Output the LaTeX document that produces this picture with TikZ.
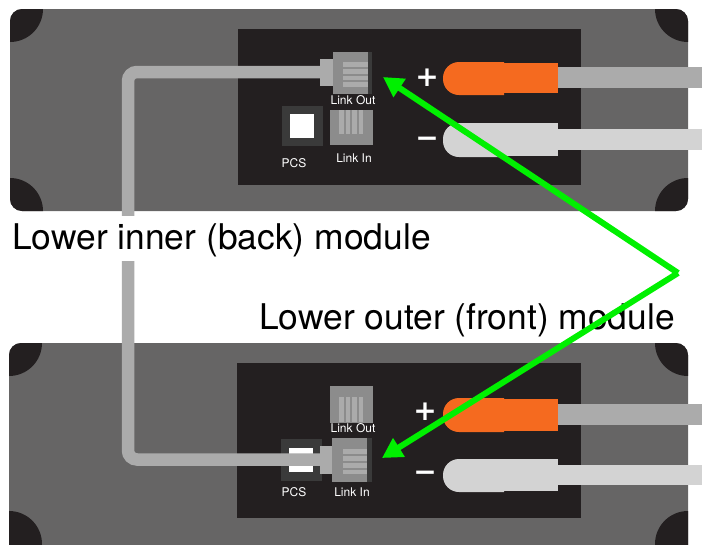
\documentclass[tikz,border=0pt]{standalone}
\usepackage{fontspec}
\setmainfont{TeX Gyre Heros}
\newfontfamily\zeichenfont{DejaVu Sans}
\usepackage{tikz}
\usetikzlibrary{arrows.meta,positioning}
\definecolor{gehaeuse}{HTML}{666565}
\definecolor{panel}{HTML}{231F20}
\definecolor{kabel}{HTML}{ABABAB}
\definecolor{kabelw}{HTML}{D3D3D3}
\definecolor{stecker}{HTML}{F56A1F}
\definecolor{buchse}{HTML}{8C8C8C}
\definecolor{pcsgrau}{HTML}{3A3A3A}
\definecolor{pfeil}{HTML}{00F000}
\tikzset{
  gehaeusebox/.style={fill=gehaeuse,rounded corners=12pt},
  ecke/.style={fill=panel},
  kabelstrich/.style={kabel,line width=12.5pt,rounded corners=9pt},
  klein/.style={white,font=\fontsize{12}{12}\selectfont,inner sep=0pt},
  zeichen/.style={white,font=\zeichenfont\fontsize{28}{28}\selectfont\bfseries,inner sep=0pt},
  gross/.style={black,font=\fontsize{35.4}{36}\selectfont,inner sep=0pt},
  zeiger/.style={-{Triangle[length=20pt,width=21pt]},pfeil,line width=6pt},
}
\begin{document}
\begin{tikzpicture}[x=1pt,y=-1pt]
  \useasboundingbox (0,0) rectangle (702,544);
  % oberes Modul
  \fill[gehaeusebox] (10,9) rectangle (688,211);
  \begin{scope}
    \clip[rounded corners=12pt] (10,9) rectangle (688,211);
    \fill[ecke] (10,9) circle (33);
    \fill[ecke] (688,9) circle (33);
    \fill[ecke] (10,211) circle (33);
    \fill[ecke] (688,211) circle (33);
  \end{scope}
  \fill[panel] (238,29) rectangle (581,185);
  % unteres Modul
  \fill[gehaeusebox] (9,343) rectangle (688,570);
  \begin{scope}
    \clip[rounded corners=12pt] (9,343) rectangle (688,570);
    \fill[ecke] (9,343) circle (33);
    \fill[ecke] (688,343) circle (33);
    \fill[ecke] (9,544) circle (33);
    \fill[ecke] (688,544) circle (33);
  \end{scope}
  \fill[panel] (237,363) rectangle (581,518);
  % Buchsen oben
  \fill[pcsgrau] (282,106) rectangle (323,146);
  \fill[white] (290,114) rectangle (314,138);
  \fill[buchse] (330,110) rectangle (373,145);
  \foreach \x in {339,345.5,352,358.5}
    \fill[kabel] (\x,110) rectangle ++(4.5,24);
  % Buchsen unten
  \fill[buchse] (330,386) rectangle (373,423);
  \foreach \x in {339,345.5,352,358.5}
    \fill[kabel] (\x,397) rectangle ++(4.5,25);
  \fill[pcsgrau] (281,439) rectangle (322,481);
  \fill[white] (289,448) rectangle (313,472);
  % Kabel
  \draw[kabelstrich] (320,72) -- (128,72) -- (128,459.5) -- (320,459.5);
  % Link-Stecker
  \fill[pcsgrau] (333,52) rectangle (372,94);
  \fill[kabel] (320,59) rectangle (333,86);
  \fill[buchse] (333,52) rectangle (368,94);
  \foreach \y in {62,69,75.5,82}
    \fill[kabel] (343,\y) rectangle (368,\y+4.5);
  \fill[pcsgrau] (332,438) rectangle (372,482);
  \fill[kabel] (320,446) rectangle (332,474);
  \fill[buchse] (332,438) rectangle (367,482);
  \foreach \y in {449,456,463,469.5}
    \fill[kabel] (343,\y) rectangle (367,\y+4.5);
  % Stromkabel
  \fill[kabel] (558,67) rectangle (702,88);
  \fill[kabelw] (558,129) rectangle (702,150);
  \fill[stecker] (504,62) [rounded corners=16pt] -- (443,62) -- (443,95) [sharp corners] -- (504,95) -- cycle;
  \fill[stecker] (504,63) rectangle (558,93);
  \fill[kabelw] (504,123) [rounded corners=16pt] -- (443,123) -- (443,157) [sharp corners] -- (504,157) -- cycle;
  \fill[kabelw] (500,123) rectangle (558,156);
  \fill[kabel] (558,404) rectangle (702,425);
  \fill[kabelw] (558,465) rectangle (702,485);
  \fill[stecker] (504,398) [rounded corners=16pt] -- (443,398) -- (443,432) [sharp corners] -- (504,432) -- cycle;
  \fill[stecker] (504,399) rectangle (558,431);
  \fill[kabelw] (504,459) [rounded corners=16pt] -- (443,459) -- (443,492) [sharp corners] -- (504,492) -- cycle;
  \fill[kabelw] (500,459) rectangle (558,491);
  % Beschriftung
  \node[zeichen] (plusoben) at (427,78) {+};
  \node[zeichen] (minusoben) at (427,142) {−};
  \node[zeichen] (plusunten) at (425,412) {+};
  \node[zeichen] (minusunten) at (425,476) {−};
  \node[klein] (linkoutoben) at (353,100) {Link Out};
  \node[klein] (linkinoben) at (354,158) {Link In};
  \node[klein] (pcsoben) at (294,163) {PCS};
  \node[klein] (linkoutunten) at (353,428) {Link Out};
  \node[klein] (linkinunten) at (352,492) {Link In};
  \node[klein] (pcsunten) at (294,492) {PCS};
  \fill[white] (10,216) rectangle (440,261);
  \node[gross,anchor=base west] (inner) at (12,249) {Lower inner (back) module};
  \node[gross,anchor=base west] (outer) at (259,329) {Lower outer (front) module};
  % Pfeile
  \coordinate (ursprung) at (678,273);
  \coordinate (ziellinkout) at (383,77);
  \coordinate (ziellinkin) at (382,458);
  \draw[zeiger] (ursprung) -- (ziellinkout);
  \draw[zeiger] (ursprung) -- (ziellinkin);
\end{tikzpicture}
\end{document}
